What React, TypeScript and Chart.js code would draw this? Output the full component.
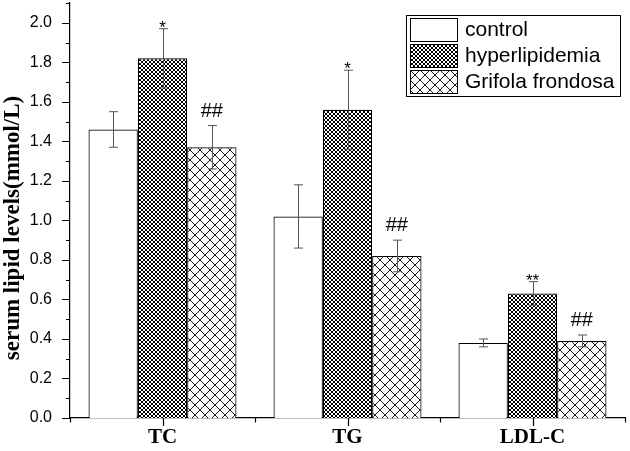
import React, { useEffect, useRef } from 'react';
import { Chart, registerables } from 'chart.js';

Chart.register(...registerables);

const categories = ['TC', 'TG', 'LDL-C'];
const seriesNames = ['control', 'hyperlipidemia', 'Grifola frondosa'];
const controlMean = [1.46, 1.02, 0.38];
const controlErr = [0.09, 0.16, 0.02];
const hyperMean = [1.82, 1.56, 0.63];
const hyperErr = [0.15, 0.2, 0.06];
const grifolaMean = [1.37, 0.82, 0.39];
const grifolaErr = [0.11, 0.08, 0.03];
const controlMarks = ['', '', ''];
const hyperMarks = ['*', '*', '**'];
const grifolaMarks = ['##', '##', '##'];
const yTickValues = [0, 0.2, 0.4, 0.6, 0.8, 1.0, 1.2, 1.4, 1.6, 1.8, 2.0];
const yMinorValues = [0.1, 0.3, 0.5, 0.7, 0.9, 1.1, 1.3, 1.5, 1.7, 1.9, 2.1];
const yTitle = 'serum lipid levels(mmol/L)';

const SANS = '"Liberation Sans", Arial, sans-serif';
const SERIF = '"Liberation Serif", "Times New Roman", serif';

function makePattern(ctx: CanvasRenderingContext2D, size: number, lw: number, color: string) {
  const c = document.createElement('canvas');
  c.width = size;
  c.height = size;
  const g = c.getContext('2d') as CanvasRenderingContext2D;
  g.fillStyle = '#fff';
  g.fillRect(0, 0, size, size);
  g.strokeStyle = color;
  g.lineWidth = lw;
  g.beginPath();
  for (let k = -1; k <= 1; k++) {
    g.moveTo(k * size, 0);
    g.lineTo(k * size + size, size);
    g.moveTo(k * size + size, 0);
    g.lineTo(k * size, size);
  }
  g.stroke();
  return ctx.createPattern(c, 'repeat') as CanvasPattern;
}

export default function App() {
  const ref = useRef<HTMLCanvasElement | null>(null);

  useEffect(() => {
    const canvas = ref.current;
    if (!canvas) return;
    const ctx = canvas.getContext('2d') as CanvasRenderingContext2D;
    const denseHatch = makePattern(ctx, 4, 1.0, '#000');
    const openHatch = makePattern(ctx, 10, 0.9, '#000');
    const fills: (string | CanvasPattern)[] = ['#fff', denseHatch, openHatch];
    const errs = [controlErr, hyperErr, grifolaErr];
    const marks = [controlMarks, hyperMarks, grifolaMarks];

    const overlay = {
      id: 'overlay',
      afterDatasetsDraw(chart: any) {
        const c = chart.ctx as CanvasRenderingContext2D;
        const ys = chart.scales.y;
        c.save();
        chart.data.datasets.forEach((ds: any, di: number) => {
          const meta = chart.getDatasetMeta(di);
          meta.data.forEach((bar: any, i: number) => {
            const v = ds.data[i];
            const e = errs[di][i];
            const yTop = ys.getPixelForValue(v + e);
            const yBot = ys.getPixelForValue(v - e);
            const x = Math.round(bar.x) + 0.5;
            c.strokeStyle = '#555';
            c.lineWidth = 1;
            c.beginPath();
            c.moveTo(x, yBot);
            c.lineTo(x, yTop);
            c.moveTo(x - 4.5, yTop);
            c.lineTo(x + 4.5, yTop);
            c.moveTo(x - 4.5, yBot);
            c.lineTo(x + 4.5, yBot);
            c.stroke();
            const m = marks[di][i];
            if (m) {
              c.fillStyle = '#000';
              c.textAlign = 'center';
              c.textBaseline = 'alphabetic';
              if (m.startsWith('#')) {
                c.font = `20px ${SANS}`;
                c.fillText(m, bar.x, yTop - 9);
              } else {
                c.font = `17px ${SANS}`;
                c.fillText(m, bar.x, yTop + 4);
              }
            }
          });
        });
        c.restore();
      },
      afterDraw(chart: any) {
        const c = chart.ctx as CanvasRenderingContext2D;
        const xs = chart.scales.x;
        const ys = chart.scales.y;
        const area = chart.chartArea;
        c.save();
        c.strokeStyle = '#000';
        c.lineWidth = 1.2;
        c.beginPath();
        yTickValues.forEach((v) => {
          const y = Math.round(ys.getPixelForValue(v)) + 0.5;
          c.moveTo(area.left, y);
          c.lineTo(area.left - 8, y);
        });
        yMinorValues.forEach((v) => {
          const y = Math.round(ys.getPixelForValue(v)) + 0.5;
          c.moveTo(area.left, y);
          c.lineTo(area.left - 4, y);
        });
        const step = xs.getPixelForValue(1) - xs.getPixelForValue(0);
        categories.forEach((_, i) => {
          const x = Math.round(xs.getPixelForValue(i)) + 0.5;
          c.moveTo(x, area.bottom);
          c.lineTo(x, area.bottom + 8);
        });
        for (let i = 0; i <= categories.length; i++) {
          const x = Math.round(xs.getPixelForValue(0) - step / 2 + i * step) + 0.5;
          c.moveTo(x, area.bottom);
          c.lineTo(x, area.bottom + 4.5);
        }
        c.stroke();

        c.fillStyle = '#000';
        c.font = `bold 23px ${SERIF}`;
        c.textAlign = 'center';
        c.textBaseline = 'alphabetic';
        c.translate(19, 228);
        c.rotate(-Math.PI / 2);
        c.fillText(yTitle, 0, 0);
        c.setTransform(1, 0, 0, 1, 0, 0);

        const lx = 406, ly = 15, lw = 214, lh = 81;
        c.fillStyle = '#fff';
        c.fillRect(lx, ly, lw, lh);
        c.strokeStyle = '#000';
        c.lineWidth = 1;
        c.strokeRect(lx + 0.5, ly + 0.5, lw, lh);
        seriesNames.forEach((name, i) => {
          const sy = 18 + i * 26;
          c.fillStyle = fills[i] as any;
          c.fillRect(410, sy, 47, 23);
          c.strokeStyle = '#000';
          c.lineWidth = 1;
          c.strokeRect(410.5, sy + 0.5, 47, 23);
          c.fillStyle = '#000';
          c.font = `21px ${SANS}`;
          c.textAlign = 'left';
          c.textBaseline = 'middle';
          c.fillText(name, 465, sy + 12);
        });
        c.restore();
      },
    };

    const chart = new Chart(canvas, {
      type: 'bar',
      data: {
        labels: categories,
        datasets: [
          { label: seriesNames[0], data: controlMean, backgroundColor: fills[0] as any },
          { label: seriesNames[1], data: hyperMean, backgroundColor: fills[1] as any },
          { label: seriesNames[2], data: grifolaMean, backgroundColor: fills[2] as any },
        ].map((d) => ({
          ...d,
          borderColor: '#000',
          borderWidth: 1.2,
          barPercentage: 1,
          categoryPercentage: 0.8,
        })),
      },
      options: {
        responsive: false,
        animation: false,
        layout: { padding: { top: 3, right: 5, left: 0, bottom: 0 } },
        plugins: { legend: { display: false }, tooltip: { enabled: false } },
        scales: {
          x: {
            grid: { display: false },
            border: { display: true, color: '#000', width: 1.2 },
            ticks: {
              color: '#000',
              padding: -1,
              font: { family: SERIF, size: 21, weight: 'bold' },
            },
            afterFit: (s: any) => {
              s.height = 33;
              s.paddingLeft = 0;
              s.paddingRight = 0;
            },
          } as any,
          y: {
            min: 0,
            max: 2.1,
            grid: { display: false },
            border: { display: true, color: '#000', width: 1.2 },
            ticks: {
              color: '#000',
              padding: 10,
              font: { family: SANS, size: 16 },
              callback: (v: any) => Number(v).toFixed(1),
            },
            afterBuildTicks: (s: any) => {
              s.ticks = yTickValues.map((v) => ({ value: v }));
            },
            afterFit: (s: any) => {
              s.width = 70;
              s.paddingTop = 0;
              s.paddingBottom = 0;
            },
          } as any,
        },
      },
      plugins: [overlay],
    });
    return () => chart.destroy();
  }, []);

  return (
    <div style={{ position: 'absolute', left: 0, top: 0, width: 630, height: 451, background: '#fff' }}>
      <canvas ref={ref} width={630} height={451} style={{ display: 'block' }} />
    </div>
  );
}
